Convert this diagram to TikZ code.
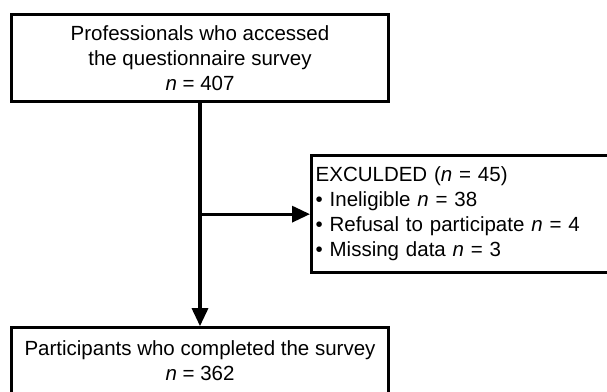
\documentclass[tikz,border=0pt]{standalone}
\usepackage{fontspec}
\setmainfont{Liberation Sans}
\usetikzlibrary{positioning, arrows.meta}
\tikzset{
box/.style={draw, line width=3.3pt, minimum width=377pt, align=center, font=\fontsize{20.5pt}{25pt}\selectfont}, % the two stage boxes
exbox/.style={draw, line width=3.3pt, text width=290pt, inner xsep=4pt, minimum height=117pt, align=left, font=\fontsize{20.5pt}{25pt}\selectfont}, % box for the excluded ones
flow/.style={line width=3.3pt, -{Triangle[length=18pt,width=16pt]}}, % thick arrows between boxes
}

\begin{document}
\begin{tikzpicture}
  \useasboundingbox (0,0) rectangle (607pt,-391pt);
  \node[box, minimum height=87pt] (accessed) at (200pt,-58pt) {Professionals who accessed\\ the questionnaire survey\\ \textit{n} = 407};
  \coordinate (split) at ([yshift=-111pt]accessed.south);
  \node[exbox, right=110pt of split] (excluded) {EXCULDED (\textit{n} = 45)\\ \textbullet\ Ineligible \textit{n} = 38\\ \textbullet\ Refusal to participate \textit{n} = 4\\ \textbullet\ Missing data \textit{n} = 3};
  \node[box, minimum height=66pt, below=223pt of accessed] (completed) {Participants who completed the survey\\ \textit{n} = 362};
  \draw[flow] (accessed) -- (completed);
  \draw[flow] (split) -- (excluded);
\end{tikzpicture}
\end{document}
